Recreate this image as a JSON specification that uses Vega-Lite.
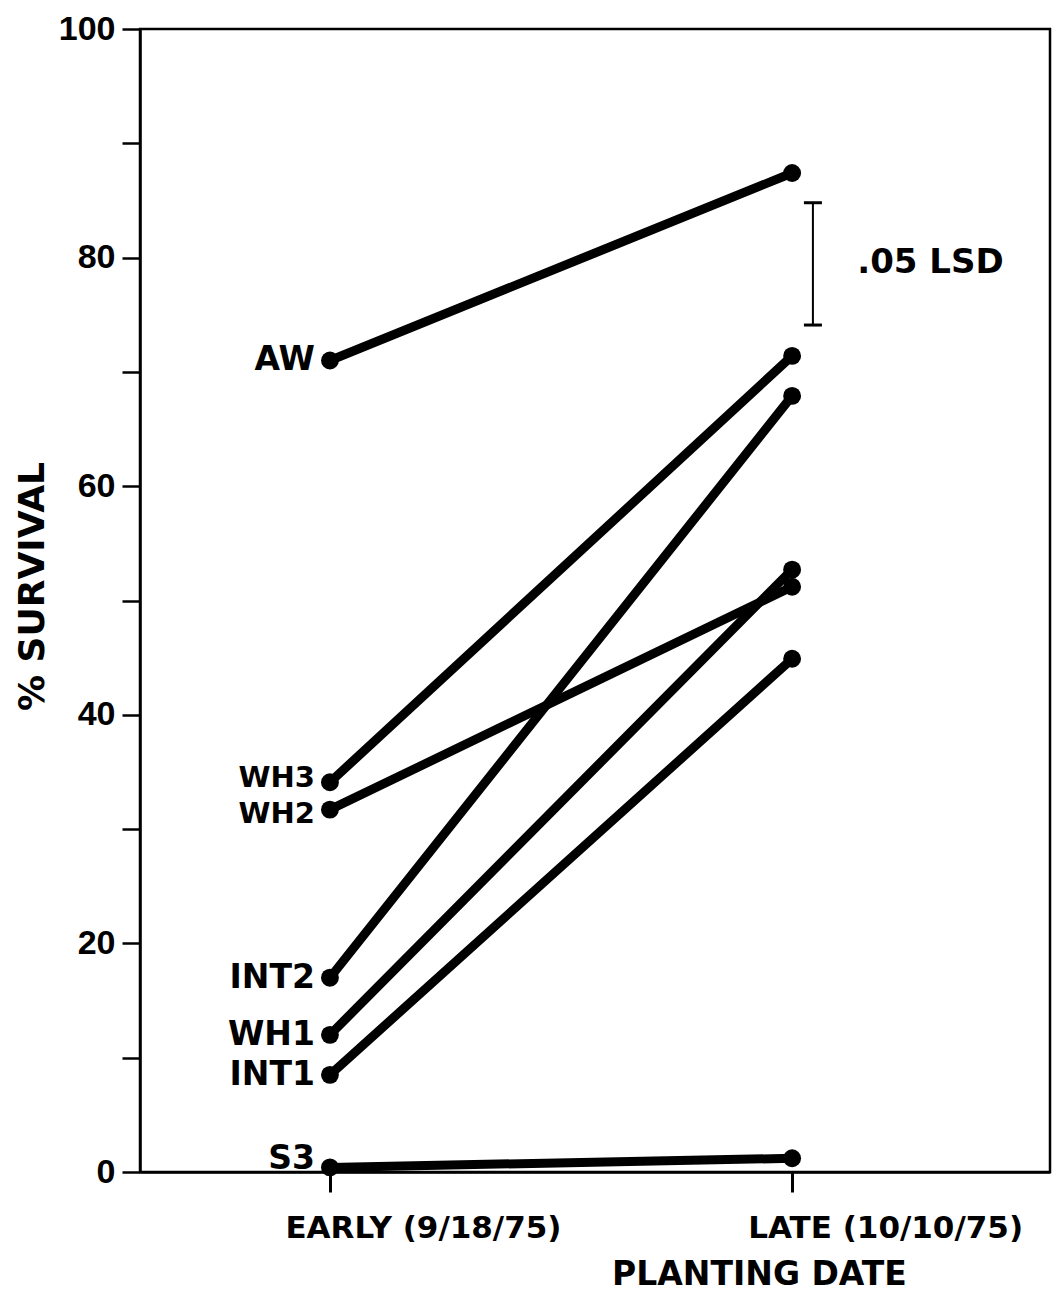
{
  "$schema": "https://vega.github.io/schema/vega-lite/v6.json",
  "autosize": {"type": "none"},
  "width": 910,
  "height": 1143,
  "padding": {"left": 140, "top": 29, "right": 2, "bottom": 122},
  "background": "white",
  "config": {
    "view": {"stroke": "black", "strokeWidth": 2.5},
    "axis": {"grid": false}
  },
  "datasets": {
    "survival": [
      {"line": "AW", "t": 0, "v": 71.0},
      {"line": "AW", "t": 1, "v": 87.4},
      {"line": "WH3", "t": 0, "v": 34.1},
      {"line": "WH3", "t": 1, "v": 71.4},
      {"line": "WH2", "t": 0, "v": 31.7},
      {"line": "WH2", "t": 1, "v": 51.2},
      {"line": "INT2", "t": 0, "v": 17.0},
      {"line": "INT2", "t": 1, "v": 67.9},
      {"line": "WH1", "t": 0, "v": 12.0},
      {"line": "WH1", "t": 1, "v": 52.7},
      {"line": "INT1", "t": 0, "v": 8.5},
      {"line": "INT1", "t": 1, "v": 44.9},
      {"line": "S3", "t": 0, "v": 0.4},
      {"line": "S3", "t": 1, "v": 1.2}
    ],
    "lsd": [
      {"t": 1.045, "v": 74.1},
      {"t": 1.045, "v": 84.8}
    ],
    "lsdLabel": [
      {"t": 1.141, "v": 79.5, "label": ".05 LSD"}
    ]
  },
  "encoding": {
    "x": {
      "field": "t",
      "type": "quantitative",
      "scale": {"domain": [-0.411, 1.558], "nice": false, "zero": false},
      "axis": {
        "values": [0, 1],
        "labelExpr": "datum.value == 0 ? 'EARLY (9/18/75)' : 'LATE (10/10/75)'",
        "title": "PLANTING DATE",
        "titleFont": "DejaVu Sans",
        "titleFontWeight": "bold",
        "titleFontSize": 33,
        "titleColor": "black",
        "titleX": 619,
        "titleY": 112,
        "titleBaseline": "alphabetic",
        "titleAlign": "center",
        "labelFont": "DejaVu Sans",
        "labelFontWeight": "bold",
        "labelFontSize": 31,
        "labelColor": "black",
        "labelPadding": 21,
        "labelOffset": 93,
        "labelLimit": 0,
        "labelFlush": false,
        "labelOverlap": false,
        "tickSize": 20,
        "tickWidth": 3,
        "tickColor": "black",
        "domainColor": "black",
        "domainWidth": 2.5
      }
    },
    "y": {
      "field": "v",
      "type": "quantitative",
      "scale": {"domain": [0, 100], "nice": false, "zero": false},
      "axis": {
        "values": [0, 10, 20, 30, 40, 50, 60, 70, 80, 90, 100],
        "labelExpr": "datum.value % 20 == 0 ? datum.label : ''",
        "title": "% SURVIVAL",
        "titleFont": "DejaVu Sans",
        "titleFontWeight": "bold",
        "titleFontSize": 36,
        "titleColor": "black",
        "titleX": -97,
        "titleY": 557,
        "titleAngle": -90,
        "titleBaseline": "alphabetic",
        "titleAlign": "center",
        "labelFont": "Liberation Sans",
        "labelFontWeight": "bold",
        "labelFontSize": 34,
        "labelColor": "black",
        "labelPadding": 7,
        "labelBaseline": "middle",
        "labelFlush": false,
        "labelOverlap": false,
        "tickSize": 18,
        "tickWidth": 2.5,
        "tickColor": "black",
        "domainColor": "black",
        "domainWidth": 2.5
      }
    }
  },
  "layer": [
    {
      "data": {"name": "survival"},
      "mark": {"type": "line", "color": "black", "strokeWidth": 9, "strokeCap": "round"},
      "encoding": {"detail": {"field": "line"}}
    },
    {
      "data": {"name": "survival"},
      "mark": {"type": "point", "shape": "circle", "filled": true, "color": "black", "opacity": 1, "size": 320}
    },
    {
      "data": {"name": "survival"},
      "transform": [{"filter": "datum.t == 0 && datum.line != 'S3' && datum.line != 'WH3' && datum.line != 'WH2'"}],
      "mark": {"type": "text", "align": "right", "baseline": "middle", "dx": -15, "font": "DejaVu Sans", "fontWeight": "bold", "fontSize": 33, "color": "black"},
      "encoding": {"text": {"field": "line"}}
    },
    {
      "data": {"name": "survival"},
      "transform": [{"filter": "datum.t == 0 && datum.line == 'WH3'"}],
      "mark": {"type": "text", "align": "right", "baseline": "middle", "dx": -15, "dy": -4, "font": "DejaVu Sans", "fontWeight": "bold", "fontSize": 29, "color": "black"},
      "encoding": {"text": {"field": "line"}}
    },
    {
      "data": {"name": "survival"},
      "transform": [{"filter": "datum.t == 0 && datum.line == 'WH2'"}],
      "mark": {"type": "text", "align": "right", "baseline": "middle", "dx": -15, "dy": 4, "font": "DejaVu Sans", "fontWeight": "bold", "fontSize": 29, "color": "black"},
      "encoding": {"text": {"field": "line"}}
    },
    {
      "data": {"name": "survival"},
      "transform": [{"filter": "datum.t == 0 && datum.line == 'S3'"}],
      "mark": {"type": "text", "align": "right", "baseline": "alphabetic", "dx": -15, "dy": 2, "font": "DejaVu Sans", "fontWeight": "bold", "fontSize": 33, "color": "black"},
      "encoding": {"text": {"field": "line"}}
    },
    {
      "data": {"name": "lsd"},
      "mark": {"type": "line", "color": "black", "strokeWidth": 2},
      "encoding": {}
    },
    {
      "data": {"name": "lsd"},
      "mark": {"type": "tick", "orient": "horizontal", "size": 18, "thickness": 3, "color": "black", "opacity": 1}
    },
    {
      "data": {"name": "lsdLabel"},
      "mark": {"type": "text", "align": "left", "baseline": "middle", "font": "DejaVu Sans", "fontWeight": "bold", "fontSize": 34, "color": "black"},
      "encoding": {"text": {"field": "label"}}
    }
  ]
}
